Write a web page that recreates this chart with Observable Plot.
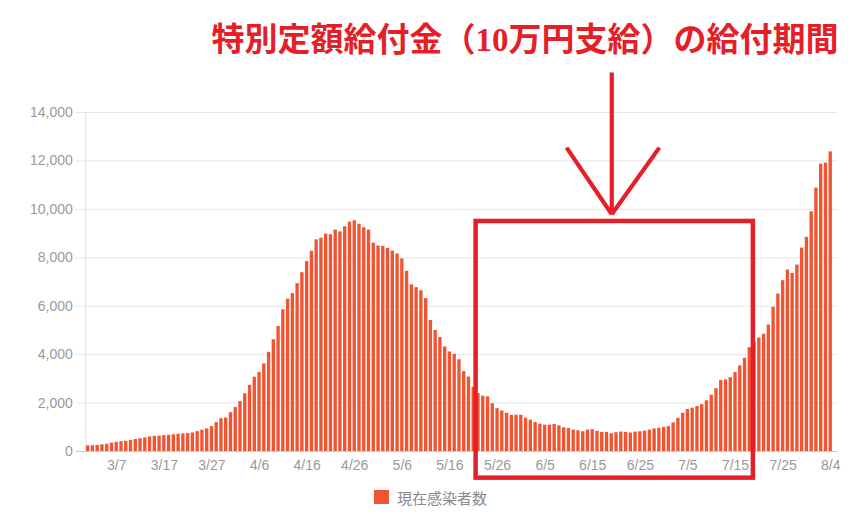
<!DOCTYPE html>
<html>
<head>
<meta charset="utf-8">
<script src="https://cdn.jsdelivr.net/npm/d3@7"></script>
<script src="https://cdn.jsdelivr.net/npm/@observablehq/plot@0.6"></script>
<style>
  html, body { margin: 0; padding: 0; background: #fff; }
  #legend { display: flex; justify-content: center; align-items: center; height: 30px; margin-left: -6px;
    font-family: "Noto Sans CJK JP", "Noto Sans", sans-serif; font-size: 15px; color: #8a8a8a; }
  #legend .sw { width: 15px; height: 14px; margin-right: 8px; }
</style>
</head>
<body>
<div id="chart"></div>
<div id="legend"></div>
<script>
// ---- data ----
const startDay = "2020-03-01";
const endDayExclusive = "2020-08-05";
const seriesName = "現在感染者数";
const values = [
  230, 240, 250, 275, 300, 345, 380, 405, 420, 460,
  495, 530, 565, 600, 625, 635, 655, 670, 690, 712,
  726, 740, 767, 822, 877, 932, 1028, 1192, 1356, 1384,
  1603, 1815, 2062, 2384, 2733, 3070, 3267, 3617, 4096, 4617,
  5165, 5850, 6288, 6521, 6932, 7384, 7843, 8268, 8741, 8809,
  8980, 8952, 9145, 9070, 9280, 9473, 9528, 9384, 9240, 9145,
  8603, 8487, 8473, 8390, 8275, 8157, 7952, 7445, 6883, 6767,
  6637, 6315, 5411, 5000, 4705, 4315, 4110, 4014, 3788, 3300,
  3075, 2650, 2395, 2285, 2258, 1972, 1768, 1673, 1578, 1496,
  1496, 1496, 1374, 1292, 1197, 1129, 1088, 1088, 1115, 1061,
  979, 952, 884, 857, 816, 884, 898, 830, 789, 789,
  734, 775, 802, 789, 762, 802, 816, 843, 884, 930,
  960, 995, 1030, 1178, 1370, 1578, 1736, 1791, 1860, 1935,
  2093, 2326, 2594, 2930, 2958, 3047, 3260, 3534, 3850, 4290,
  4500, 4689, 4840, 5225, 5954, 6504, 7054, 7494, 7356, 7700,
  8401, 8841, 9900, 10876, 11866, 11908, 12375
];
const xTickLabels = ["3/7","3/17","3/27","4/6","4/16","4/26","5/6","5/16","5/26","6/5","6/15","6/25","7/5","7/15","7/25","8/4"];
const yTicks = [0, 2000, 4000, 6000, 8000, 10000, 12000, 14000];
const titleText = "特別定額給付金（10万円支給）の給付期間";
// annotation (payment period box and arrow), in data units
const boxStart = "2020-05-22T00:00Z";
const boxEnd = "2020-07-19T06:00Z";
const boxTop = 9500;
const boxBottom = -1100;
const arrowDay = "2020-06-19T12:00Z";
const arrowFrom = 15650;
const arrowTip = 9800;
const wingLeft = "2020-06-10T00:00Z";
const wingRight = "2020-06-29T12:00Z";
const wingLevel = 12550;

// ---- build ----
const barColor = "#f05533";
const red = "#e61e28";
const gray = "#999";
const dates = d3.utcDay.range(new Date(startDay), new Date(endDayExclusive));
const data = values.map((v, i) => ({date: dates[i], value: v}));
const tickDates = xTickLabels.map(s => {
  const [m, d] = s.split("/").map(Number);
  return new Date(Date.UTC(2020, m - 1, d, 12));
});
const fmtTick = d => `${d.getUTCMonth() + 1}/${d.getUTCDate()}`;

const W = 867, H = 482;
const chart = Plot.plot({
  width: W,
  height: H,
  marginLeft: 85.3,
  marginRight: 34.4,
  marginTop: 112,
  marginBottom: 31,
  style: {fontFamily: "'Liberation Sans', Arial, sans-serif", fontSize: "14px", color: gray, background: "#fff"},
  x: {type: "utc", domain: [new Date(startDay), new Date(endDayExclusive)]},
  y: {domain: [0, 14000]},
  marks: [
    Plot.ruleY(yTicks.filter(d => d > 0), {stroke: "#e6e6e6", strokeWidth: 1, insetLeft: -10, insetRight: -5}),
    Plot.ruleX([new Date(startDay)], {y1: 0, y2: 14000, stroke: "#e0e0e0"}),
    Plot.rectY(data, {x: "date", y: "value", interval: d3.utcDay, fill: barColor, insetLeft: 0.7, insetRight: 0.7}),
    Plot.ruleY([0], {stroke: "#cccccc", strokeWidth: 1, insetLeft: -10, insetRight: -5}),
    Plot.axisY(yTicks, {tickSize: 0, tickPadding: 13, tickFormat: d3.format(","), fontSize: 14}),
    Plot.axisX(tickDates, {tickSize: 0, tickPadding: 9, tickFormat: fmtTick, fontSize: 14}),
    Plot.rect([{}], {x1: () => new Date(boxStart), x2: () => new Date(boxEnd), y1: () => boxBottom, y2: () => boxTop, fill: "none", stroke: red, strokeWidth: 4.5}),
    Plot.link([
      {x1: arrowDay, y1: arrowFrom, x2: arrowDay, y2: arrowTip},
      {x1: wingLeft, y1: wingLevel, x2: arrowDay, y2: arrowTip},
      {x1: wingRight, y1: wingLevel, x2: arrowDay, y2: arrowTip}
    ], {x1: d => new Date(d.x1), x2: d => new Date(d.x2), y1: "y1", y2: "y2", stroke: red, strokeWidth: 4.2, strokeLinecap: "butt"}),
    Plot.text([titleText], {frameAnchor: "top-right", dy: -72, dx: 5.5, text: d => d, fill: red, fontSize: 33, fontWeight: "bold",
      fontFamily: "'Liberation Serif', 'Noto Sans CJK JP', serif", textAnchor: "end", lineAnchor: "middle"})
  ]
});
document.getElementById("chart").appendChild(chart);

const legend = document.getElementById("legend");
legend.innerHTML = `<span class="sw" style="background:${barColor}"></span><span>${seriesName}</span>`;
</script>
</body>
</html>
